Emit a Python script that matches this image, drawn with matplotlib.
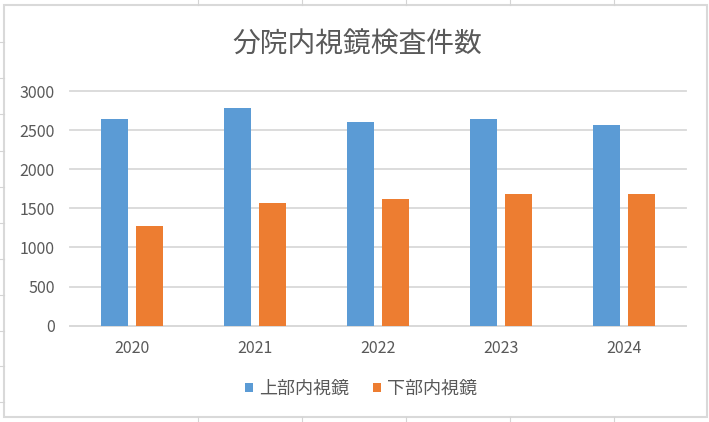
import matplotlib.pyplot as plt
from matplotlib.lines import Line2D
import numpy as np

plt.rcParams['font.family'] = ['Noto Sans CJK JP', 'DejaVu Sans']

# データ
years = ["2020", "2021", "2022", "2023", "2024"]
upper = [2640, 2780, 2600, 2640, 2565]   # 上部内視鏡
lower = [1275, 1570, 1620, 1680, 1680]   # 下部内視鏡
series_names = ["上部内視鏡", "下部内視鏡"]
title = "分院内視鏡検査件数"

blue = "#5b9bd5"
orange = "#ed7d31"
grid_col = "#d9d9d9"
txt_col = "#595959"

W, H = 709, 422
fig = plt.figure(figsize=(W / 100, H / 100), dpi=100)

# 枠の外のセル線
for xp in [198, 302, 406, 510, 614]:
    fig.add_artist(Line2D([xp / W, xp / W], [1, 1 - 5 / H], color="#d4d4d4", lw=0.8))
    fig.add_artist(Line2D([xp / W, xp / W], [0, 5 / H], color="#d4d4d4", lw=0.8))
for yp in [42, 78, 114, 151, 187, 223, 259, 295, 331, 366, 402]:
    fig.add_artist(Line2D([0, 4 / W], [1 - yp / H, 1 - yp / H], color="#d4d4d4", lw=0.8))

# グラフの枠
fig.add_artist(plt.Rectangle((4 / W, 5 / H), 703 / W, 412 / H, fill=False,
                             edgecolor=grid_col, lw=1.5))

ax = fig.add_axes([70 / W, (H - 325.7) / H, 616 / W, 234.7 / H])

x = np.arange(len(years))
w = 0.22
off = 0.142
b1 = ax.bar(x - off, upper, w, color=blue, label=series_names[0], zorder=3)
b2 = ax.bar(x + off, lower, w, color=orange, label=series_names[1], zorder=3)

ax.set_xlim(-0.5, len(years) - 0.5)
ax.set_ylim(0, 3000)
ax.set_yticks(range(0, 3001, 500))
ax.set_xticks(x)
ax.set_xticklabels(years)
ax.yaxis.grid(True, color=grid_col, lw=1.3)
ax.set_axisbelow(True)
for gl in ax.get_ygridlines():
    gl.set_clip_on(False)
for s in ["top", "right", "left"]:
    ax.spines[s].set_visible(False)
ax.spines["bottom"].set_color(grid_col)
ax.spines["bottom"].set_linewidth(1.3)
ax.tick_params(axis="both", length=0, labelsize=11.5, labelcolor=txt_col)
ax.tick_params(axis="y", pad=11)
ax.tick_params(axis="x", pad=10.5)

fig.text(357 / W, 1 - 45 / H, title, ha="center", va="center",
         fontsize=20, color=txt_col)

fig.legend(handles=[b1, b2], loc="center", bbox_to_anchor=(361 / W, 1 - 389 / H),
           ncol=2, frameon=False, fontsize=13, labelcolor=txt_col,
           handlelength=0.45, handleheight=0.45, handletextpad=0.35,
           columnspacing=1.3)

fig.savefig("out.png", dpi=100)
